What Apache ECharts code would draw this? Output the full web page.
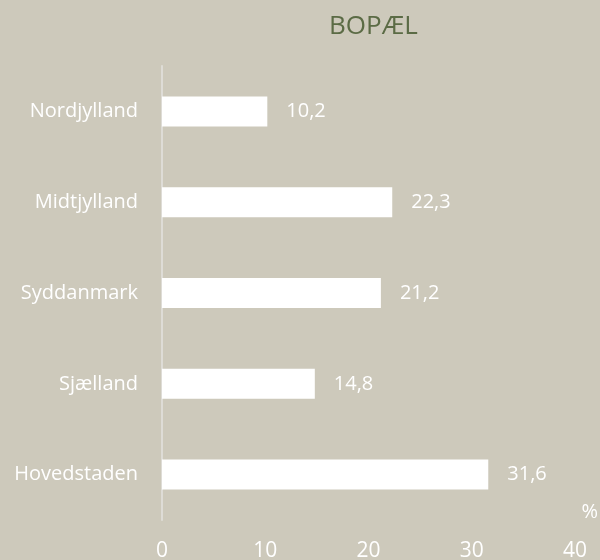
<!DOCTYPE html>
<html>
<head>
<meta charset="utf-8">
<title>Bopæl</title>
<script src="https://cdn.jsdelivr.net/npm/echarts@6/dist/echarts.min.js"></script>
<style>
  html, body { margin: 0; padding: 0; background: #cdc9bb; }
</style>
</head>
<body>
<div id="main" style="width: 600px;height:560px;"></div>
<script>
    var regions = ['Hovedstaden', 'Sjælland', 'Syddanmark', 'Midtjylland', 'Nordjylland'];
    var shares = [31.6, 14.8, 21.2, 22.3, 10.2];
    var ticks = [0, 10, 20, 30, 40];

    var myChart = echarts.init(document.getElementById('main'));
    var font = '"Open Sans", "Noto Sans", sans-serif';
    option = {
        backgroundColor: '#cdc9bb',
        animation: false,
        title: {
            text: 'BOPÆL',
            left: 324,
            top: 9,
            textStyle: { color: '#5b6b45', fontSize: 26, fontWeight: 'normal', fontFamily: font }
        },
        grid: { left: 162, right: 25, top: 66, bottom: 40, containLabel: false, outerBoundsMode: 'none' },
        xAxis: {
            type: 'value',
            min: ticks[0],
            max: ticks[ticks.length - 1],
            interval: 10,
            axisLine: { show: false },
            axisTick: { show: false },
            splitLine: { show: false },
            axisLabel: { color: '#ffffff', fontSize: 21, margin: 21, fontFamily: font }
        },
        yAxis: {
            type: 'category',
            data: regions,
            axisLine: { show: true, lineStyle: { color: '#dedcd6', width: 2 } },
            axisTick: { show: false },
            axisLabel: { color: '#ffffff', fontSize: 20, margin: 24, fontFamily: font }
        },
        graphic: [{
            type: 'text',
            right: 2,
            top: 502,
            style: { text: '%', fill: '#ffffff', fontSize: 20, fontFamily: font }
        }],
        series: [{
            type: 'bar',
            data: shares,
            barWidth: 30,
            itemStyle: { color: '#ffffff' },
            label: {
                show: true,
                position: 'right',
                distance: 19,
                color: '#ffffff',
                fontSize: 20,
                fontFamily: font,
                formatter: function (p) { return String(p.value).replace('.', ','); }
            }
        }]
    };
    myChart.setOption(option);
</script>
</body>
</html>
